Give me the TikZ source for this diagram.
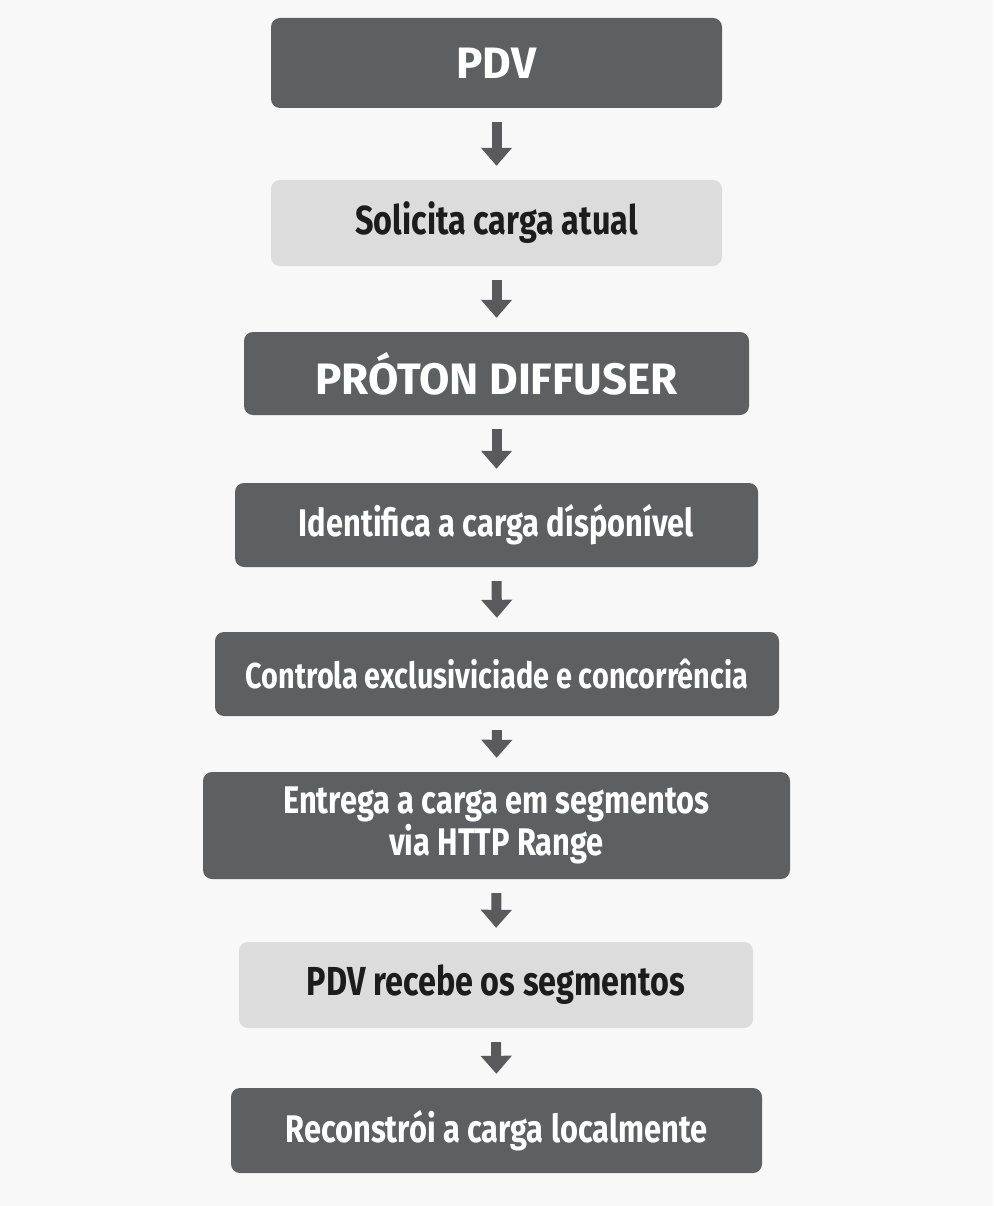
\documentclass[tikz,border=0pt]{standalone}
\usepackage{fontspec}
\usetikzlibrary{arrows.meta}
\setmainfont{Fira Sans}[FakeStretch=0.8]
\newfontfamily\titlefont{Fira Sans}
\definecolor{bg}{HTML}{F8F8F8}
\definecolor{darkbox}{HTML}{5E5F61}
\definecolor{lightbox}{HTML}{DCDCDC}
\definecolor{darktext}{HTML}{1C1C1C}
\definecolor{arrowc}{HTML}{5A5A5C}
\tikzset{
  darkstep/.style={rectangle, rounded corners=9pt, fill=darkbox, text=white, font=\fontsize{38.5}{42}\selectfont\bfseries, align=center, inner sep=0pt},
  lightstep/.style={rectangle, rounded corners=9pt, fill=lightbox, text=darktext, font=\fontsize{40.5}{46}\selectfont\bfseries, align=center, inner sep=0pt},
  titlestep/.style={darkstep, font=\titlefont\fontsize{44}{50}\selectfont\bfseries},
  flow/.style={draw=arrowc, line width=10pt, -{Triangle[width=30pt,length=18pt]}, shorten >=14pt, shorten <=14pt}
}
\begin{document}
\begin{tikzpicture}[x=1pt,y=-1pt]
\fill[bg] (0,0) rectangle (993,1206);
\useasboundingbox (0,0) rectangle (993,1206);
\node[titlestep, minimum width=451pt, minimum height=90pt] (pdv) at (496.5,63) {PDV};
\node[lightstep, minimum width=451pt, minimum height=86pt] (sol) at (496.5,223) {Solicita carga atual};
\node[titlestep, minimum width=505pt, minimum height=83pt] (pro) at (496.5,373.5) {PRÓTON DIFFUSER};
\node[darkstep, minimum width=523pt, minimum height=84pt] (ide) at (496.5,525) {Identifica a carga dísṕonível};
\node[darkstep, minimum width=564pt, minimum height=84pt, font=\fontsize{36}{42}\selectfont\bfseries] (con) at (497,674) {Controla exclusiviciade e concorrência};
\node[darkstep, minimum width=587pt, minimum height=107pt] (ent) at (496.5,825.5) {Entrega a carga em segmentos\\via HTTP Range};
\node[lightstep, minimum width=514pt, minimum height=86pt] (rec) at (496,985) {PDV recebe os segmentos};
\node[darkstep, minimum width=531pt, minimum height=85pt] (rco) at (496.5,1130.5) {Reconstrói a carga localmente};
\draw[flow] (pdv.south) -- (sol.north);
\draw[flow] (sol.south) -- (pro.north);
\draw[flow] (pro.south) -- (ide.north);
\draw[flow] (ide.south) -- (con.north);
\draw[flow] (con.south) -- (ent.north);
\draw[flow] (ent.south) -- (rec.north);
\draw[flow] (rec.south) -- (rco.north);
\end{tikzpicture}
\end{document}
